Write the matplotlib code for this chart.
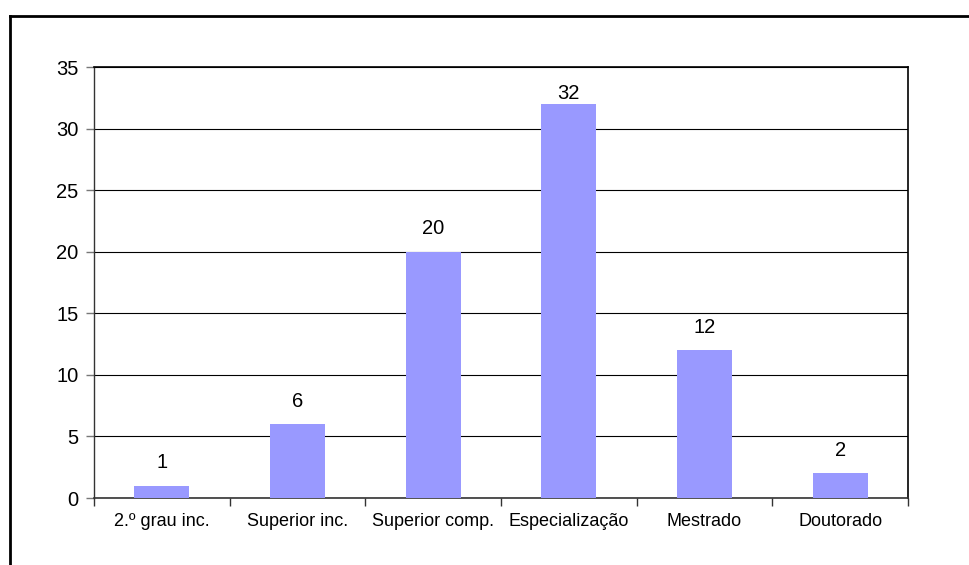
import matplotlib.pyplot as plt
from matplotlib.lines import Line2D

plt.rcParams['font.family'] = ['Liberation Sans', 'DejaVu Sans']

categorias = ['2.º grau inc.', 'Superior inc.', 'Superior comp.',
              'Especialização', 'Mestrado', 'Doutorado']
valores = [1, 6, 20, 32, 12, 2]
y_ticks = [0, 5, 10, 15, 20, 25, 30, 35]

fig = plt.figure(figsize=(9.69, 5.65), dpi=100)
ax = fig.add_axes([94 / 969, 1 - 498 / 565, 814 / 969, 431 / 565])

x = list(range(len(categorias)))
ax.bar(x, valores, width=0.405, color='#9999ff', zorder=3)

# rótulos de valor; o mais alto fica encostado na barra para não sair da área
for xi, v in zip(x, valores):
    dy = 1 if v >= 30 else 9.7
    ax.annotate(str(v), xy=(xi, v), xytext=(0, dy), textcoords='offset points',
                ha='center', va='bottom', fontsize=14.5)

ax.set_xlim(-0.5, len(categorias) - 0.5)
ax.set_ylim(0, 35)
ax.set_yticks(y_ticks)
ax.set_yticklabels([str(t) for t in y_ticks], fontsize=14.5)

# rótulos centrados, marcas nas divisas entre categorias
ax.set_xticks(x)
ax.set_xticklabels(categorias, fontsize=13)
ax.tick_params(axis='x', which='major', length=0, pad=11)
ax.set_xticks([i - 0.5 for i in range(len(categorias) + 1)], minor=True)
ax.tick_params(axis='x', which='minor', length=6, width=1, color='#333333', direction='out')
ax.tick_params(axis='y', length=6, width=1, color='#777777', direction='out', pad=5)

ax.yaxis.grid(True, color='black', linewidth=0.8)
ax.set_axisbelow(True)
for lado in ['top', 'right']:
    ax.spines[lado].set_color('black')
    ax.spines[lado].set_linewidth(1.2)
ax.spines['left'].set_color('#333333')
ax.spines['bottom'].set_color('#333333')
ax.spines['left'].set_linewidth(1.0)
ax.spines['bottom'].set_linewidth(1.2)

# moldura externa (só esquerda e topo aparecem)
fig.add_artist(Line2D([10 / 969, 10 / 969], [0, 1 - 16 / 565],
                      transform=fig.transFigure, color='black', linewidth=2))
fig.add_artist(Line2D([10 / 969, 1], [1 - 16 / 565, 1 - 16 / 565],
                      transform=fig.transFigure, color='black', linewidth=2))

fig.savefig('out.png', dpi=100)
